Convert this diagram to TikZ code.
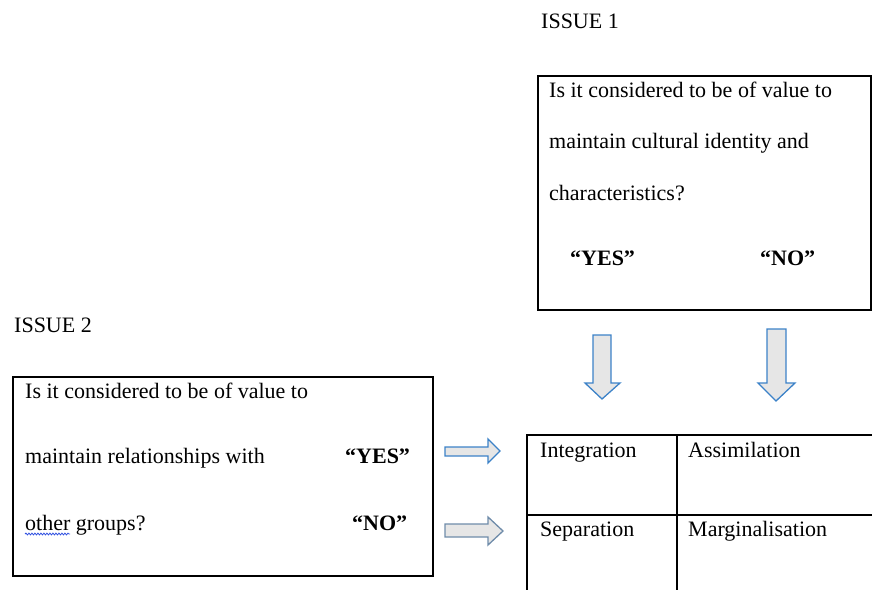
\documentclass[tikz,border=0pt]{standalone}
\usepackage{fontspec}
\setmainfont{Liberation Serif}
\usetikzlibrary{decorations.pathmorphing}

\definecolor{arrowblue}{HTML}{3C82C8}
\definecolor{arrowslate}{HTML}{6F8CAA}
\definecolor{arrowfill}{HTML}{E6E6E6}
\definecolor{spellblue}{HTML}{3050E0}

\tikzset{
  body text/.style = {anchor = base west, inner sep = 0pt, font = \fontsize{22}{26}\selectfont},
  answer text/.style = {body text, font = \fontsize{22}{26}\selectfont\bfseries},
  issue box/.style = {draw, line width = 1.4pt},
  grid line/.style = {line width = 1.8pt},
  block arrow/.style = {draw = arrowblue, fill = arrowfill, line width = 1.3pt, line join = miter},
}

\begin{document}
\begin{tikzpicture}[x = 1pt, y = -1pt]
      \useasboundingbox (0, 0) rectangle (872, 589);
      \clip (0, 0) rectangle (872, 589);

      % issue 1
      % -------
      \node [body text] (issueone) at (541, 28) {ISSUE 1};
      \draw [-, issue box] (538, 76) rectangle (871, 310);
      \node [body text] (qonea) at (549, 97) {Is it considered to be of value to};
      \node [body text] (qoneb) at (549, 148) {maintain cultural identity and};
      \node [body text] (qonec) at (549, 200) {characteristics?};
      \node [answer text] (yesone) at (570, 265) {“YES”};
      \node [answer text] (noone) at (760, 265) {“NO”};

      % issue 2
      % -------
      \node [body text] (issuetwo) at (14, 332) {ISSUE 2};
      \draw [-, issue box] (13, 377) rectangle (433, 576);
      \node [body text] (qtwoa) at (25, 398) {Is it considered to be of value to};
      \node [body text] (qtwob) at (25, 463) {maintain relationships with};
      \node [body text] (qtwoc) at (25, 530) {other groups?};
      \node [answer text] (yestwo) at (345, 463) {“YES”};
      \node [answer text] (notwo) at (352, 530) {“NO”};
      \draw [-, spellblue, line width = 0.8pt,
             decoration = {snake, amplitude = 0.9pt, segment length = 3pt},
             decorate]
        (qtwoc.base west) ++(0, 4) -- ++(45, 0)
      ;

      % arrows
      % ------
      \draw [block arrow]
        (593, 335) --
        (611, 335) --
        (611, 383) --
        (620, 383) --
        (602, 399) --
        (585, 383) --
        (593, 383) --
        cycle
      ;
      \draw [block arrow]
        (767, 329) --
        (786, 329) --
        (786, 383) --
        (795, 383) --
        (776, 401) --
        (758, 383) --
        (767, 383) --
        cycle
      ;
      \draw [block arrow]
        (445, 447) --
        (488, 447) --
        (488, 439) --
        (500, 451) --
        (488, 463) --
        (488, 456) --
        (445, 456) --
        cycle
      ;
      \draw [block arrow, draw = arrowslate]
        (445, 524) --
        (488, 524) --
        (488, 517) --
        (503, 531) --
        (488, 545) --
        (488, 537) --
        (445, 537) --
        cycle
      ;

      % strategies
      % ----------
      \draw [-, grid line] (527, 600) -- (527, 435) -- (880, 435);
      \draw [-, grid line] (527, 515) -- (880, 515);
      \draw [-, grid line] (677, 435) -- (677, 600);
      \node [body text] (integ) at (540, 457) {Integration};
      \node [body text] (assim) at (688, 457) {Assimilation};
      \node [body text] (separ) at (540, 536) {Separation};
      \node [body text] (margin) at (688, 536) {Marginalisation};
\end{tikzpicture}
\end{document}
